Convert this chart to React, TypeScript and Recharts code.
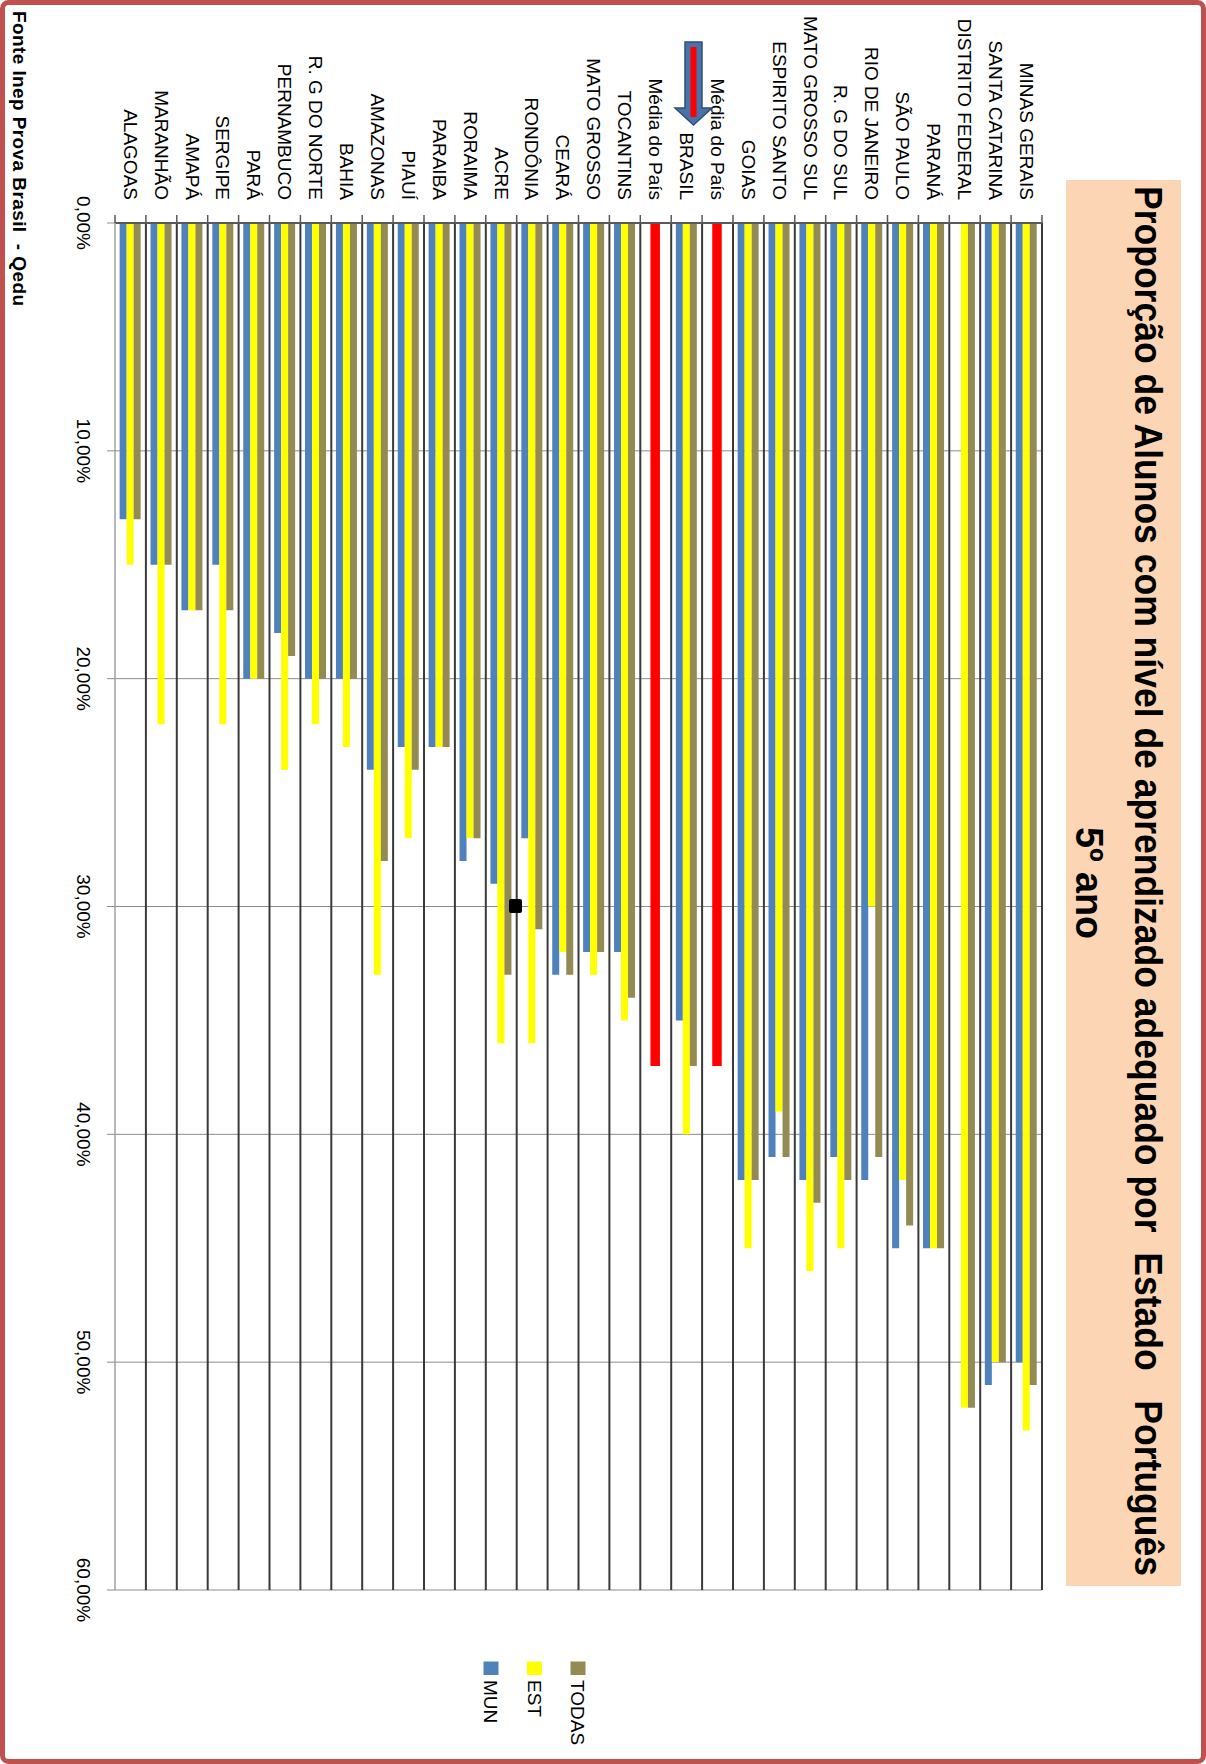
import React from 'react'
import { BarChart, Bar, XAxis, YAxis, CartesianGrid, Legend } from 'recharts'

// categories left to right as they appear on the page (the chart is drawn turned 90°)
const CATEGORIES = [
  'ALAGOAS', 'MARANHÃO', 'AMAPÁ', 'SERGIPE', 'PARÁ', 'PERNAMBUCO', 'R. G DO NORTE', 'BAHIA',
  'AMAZONAS', 'PIAUÍ', 'PARAIBA', 'RORAIMA', 'ACRE', 'RONDÔNIA', 'CEARÁ', 'MATO GROSSO',
  'TOCANTINS', 'Média do País', 'BRASIL', 'Média do País', 'GOIAS', 'ESPIRITO SANTO',
  'MATO GROSSO SUL', 'R. G DO SUL', 'RIO DE JANEIRO', 'SÃO PAULO', 'PARANÁ',
  'DISTRITO FEDERAL', 'SANTA CATARINA', 'MINAS GERAIS',
]

// % of students with adequate level, by network
const MUN = [13, 15, 17, 15, 20, 18, 20, 20, 24, 23, 23, 28, 29, 27, 33, 32, 32, null, 35, null, 42, 41, 42, 41, 42, 45, 45, null, 51, 50]
const EST = [15, 22, 17, 22, 20, 24, 22, 23, 33, 27, 23, 27, 36, 36, 32, 33, 35, null, 40, null, 45, 39, 46, 45, 30, 42, 45, 52, 50, 53]
const TODAS = [13, 15, 17, 17, 20, 19, 20, 20, 28, 24, 23, 27, 33, 31, 33, 32, 34, null, 37, null, 42, 41, 43, 42, 41, 44, 45, 52, 50, 51]
const MEDIA = [null, null, null, null, null, null, null, null, null, null, null, null, null, null, null, null, null, 37, null, 37, null, null, null, null, null, null, null, null, null, null]

const SERIES = ['MUN', 'EST', 'TODAS']
const VALUE_TICKS = [0, 10, 20, 30, 40, 50, 60]

const W = 1206
const H = 1764
const MARGIN = { top: 23, right: 164, bottom: 174, left: 0 }
const PLOT_W = W - 115 - MARGIN.right
const BAND = PLOT_W / CATEGORIES.length
const FONT = 'Liberation Sans, Arial, sans-serif'

const COLORS = { mun: '#4F81BD', est: '#FFFF00', todas: '#948A54', media: '#FF0000' }

const data = CATEGORIES.map((name, i) => ({
  name,
  mun: MUN[i],
  est: EST[i] ?? MEDIA[i],
  todas: TODAS[i],
  media: MEDIA[i],
}))

function CategoryTick(props: any) {
  const { x, y, payload } = props
  const label = CATEGORIES[payload.index] ?? payload.value
  const isLast = payload.index === CATEGORIES.length - 1
  return (
    <g>
      <line x1={x - BAND / 2} x2={x - BAND / 2} y1={y} y2={y + 8} stroke="#595959" strokeWidth={1.5} />
      {isLast && <line x1={x + BAND / 2} x2={x + BAND / 2} y1={y} y2={y + 8} stroke="#595959" strokeWidth={1.5} />}
      <text
        transform={`translate(${x},${y - 15}) rotate(90)`}
        textAnchor="end"
        dy="0.35em"
        fontSize={19}
        fontFamily={FONT}
        fill="#000"
      >
        {label}
      </text>
    </g>
  )
}

function ValueTick(props: any) {
  const { x, y, payload } = props
  return (
    <text
      transform={`translate(${x - 23},${y}) rotate(90)`}
      textAnchor="middle"
      dy="0.35em"
      fontSize={19}
      fontFamily={FONT}
      fill="#000"
    >
      {`${payload.value},00%`}
    </text>
  )
}

// EST bar, drawn red (and a bit wider) on the "Média do País" rows
function EstShape(props: any) {
  const { x, y, width, height, payload } = props
  if (height == null || width == null) return null
  const isMedia = payload.media != null
  const top = Math.min(y, y + height)
  const h = Math.abs(height)
  return (
    <rect
      x={isMedia ? x - 1.5 : x}
      y={top}
      width={isMedia ? width + 2.5 : width}
      height={h}
      fill={isMedia ? COLORS.media : COLORS.est}
    />
  )
}

function LegendBox(props: any) {
  const items = props.payload || []
  return (
    <svg
      width={140}
      height={130}
      style={{ position: 'absolute', left: 470, top: 1640, overflow: 'visible' }}
    >
      {items.map((it: any) => {
        const i = Math.max(0, SERIES.indexOf(it.value))
        const cx = 21 + i * 43.5
        return (
          <g key={it.value}>
            <rect x={cx - 7.5} y={21.5} width={15} height={13.5} fill={it.color} />
            <text
              transform={`translate(${cx},40) rotate(90)`}
              dy="0.35em"
              fontSize={19}
              fontFamily={FONT}
              fill="#000"
            >
              {it.value}
            </text>
          </g>
        )
      })}
    </svg>
  )
}

function Decorations() {
  return (
    <svg
      width={W}
      height={H}
      style={{ position: 'absolute', left: 0, top: 0, pointerEvents: 'none' }}
    >
      <rect x={2.5} y={2.5} width={W - 5} height={H - 5} rx={6} fill="none" stroke="#C0504D" strokeWidth={5} />
      {/* title box */}
      <rect x={1066} y={180} width={115} height={1406} fill="#FCD5B5" />
      <text
        transform="translate(1148,881) rotate(90)"
        textAnchor="middle"
        dy="0.35em"
        fontSize={38}
        fontWeight="bold"
        fontFamily={FONT}
        fill="#000"
        textLength={1390}
        lengthAdjust="spacingAndGlyphs"
        style={{ whiteSpace: 'pre' }}
      >
        {'Proporção de Alunos com nível de aprendizado adequado por  Estado   Português'}
      </text>
      <text
        transform="translate(1089,883) rotate(90)"
        textAnchor="middle"
        dy="0.35em"
        fontSize={38}
        fontWeight="bold"
        fontFamily={FONT}
        fill="#000"
        textLength={112}
        lengthAdjust="spacingAndGlyphs"
      >
        5º ano
      </text>
      {/* source */}
      <text
        transform="translate(20,11) rotate(90)"
        dy="0.35em"
        fontSize={19}
        fontWeight="bold"
        fontFamily={FONT}
        fill="#000"
        textLength={295}
        lengthAdjust="spacing"
        style={{ whiteSpace: 'pre' }}
      >
        {'Fonte Inep Prova Brasil  - Qedu'}
      </text>
      {/* arrow over BRASIL */}
      <path d="M685,42 L702,42 L702,108 L712,108 L693.5,125 L675,108 L685,108 Z" fill="#4A72A8" stroke="#2E4F7C" strokeWidth={1.5} />
      <rect x={690.5} y={47} width={6} height={70} fill="#FF0000" />
      {/* stray marker */}
      <rect x={509} y={899} width={13} height={14} rx={2} fill="#000" />
    </svg>
  )
}

export default function App() {
  return (
    <div style={{ position: 'absolute', left: 0, top: 0, width: W, height: H, background: '#fff' }}>
      <BarChart
        width={W}
        height={H}
        data={data}
        margin={MARGIN}
        barCategoryGap="15%"
        barGap={0}
      >
        <CartesianGrid vertical={false} stroke="#8C8C8C" strokeWidth={1} />
        <CartesianGrid
          horizontal={false}
          stroke="#3A3A3A"
          strokeWidth={2}
          verticalCoordinatesGenerator={({ offset }: any) =>
            CATEGORIES.map((_, i) => offset.left + ((i + 1) * offset.width) / CATEGORIES.length)
          }
        />
        <XAxis
          dataKey="name"
          orientation="top"
          height={200}
          interval={0}
          tickSize={8}
          tickMargin={0}
          tickLine={false}
          axisLine={{ stroke: '#595959', strokeWidth: 2 }}
          tick={<CategoryTick />}
        />
        <YAxis
          type="number"
          domain={[0, 60]}
          ticks={VALUE_TICKS}
          reversed
          width={115}
          tickSize={8}
          tickMargin={0}
          tickLine={{ stroke: '#8C8C8C' }}
          axisLine={{ stroke: '#A0A0A0', strokeWidth: 1.5 }}
          tick={<ValueTick />}
        />
        <Legend
          content={<LegendBox />}
          wrapperStyle={{ left: 0, top: 0, width: 0, height: 0, overflow: 'visible' }}
        />
        <Bar dataKey="mun" name="MUN" fill={COLORS.mun} isAnimationActive={false} />
        <Bar dataKey="est" name="EST" fill={COLORS.est} shape={<EstShape />} isAnimationActive={false} />
        <Bar dataKey="todas" name="TODAS" fill={COLORS.todas} isAnimationActive={false} />
      </BarChart>
      <Decorations />
    </div>
  )
}
